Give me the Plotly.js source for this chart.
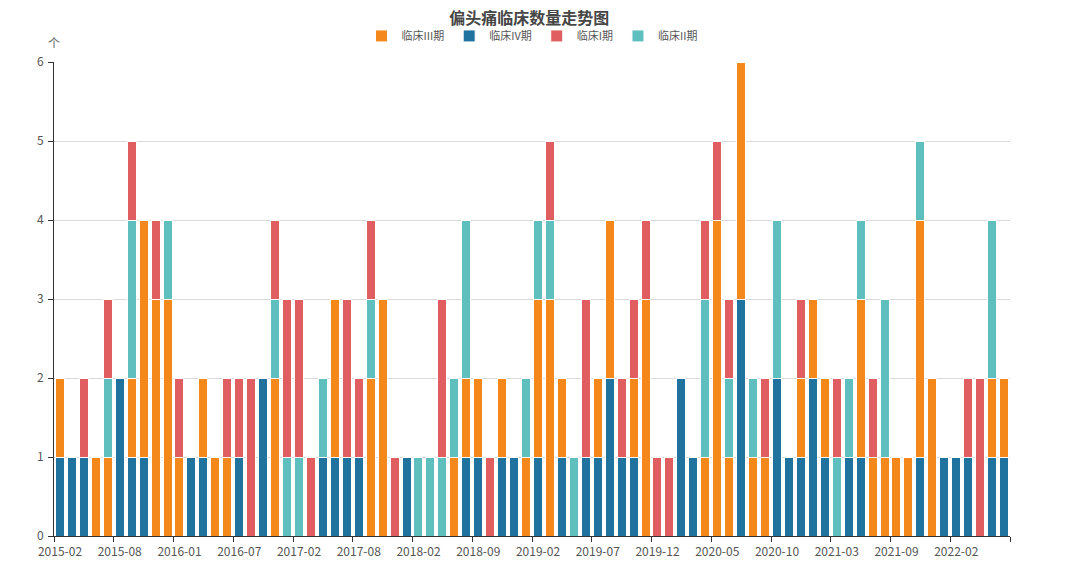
<!DOCTYPE html>
<html>
<head>
<meta charset="utf-8">
<script src="https://cdn.plot.ly/plotly-3.0.1.min.js"></script>
<style>html,body{margin:0;padding:0;background:#fff;}#chart{width:1080px;height:581px;}</style>
</head>
<body>
<div id="chart"></div>
<script>
const months = [
  "2015-02","2015-03","2015-04","2015-05","2015-07",
  "2015-08","2015-09","2015-10","2015-11","2015-12",
  "2016-01","2016-02","2016-03","2016-04","2016-06",
  "2016-07","2016-08","2016-10","2016-11","2016-12",
  "2017-02","2017-03","2017-04","2017-05","2017-07",
  "2017-08","2017-09","2017-10","2017-11","2018-01",
  "2018-02","2018-03","2018-05","2018-06","2018-07",
  "2018-09","2018-10","2018-11","2018-12","2019-01",
  "2019-02","2019-03","2019-04","2019-05","2019-06",
  "2019-07","2019-08","2019-09","2019-10","2019-11",
  "2019-12","2020-01","2020-02","2020-03","2020-04",
  "2020-05","2020-06","2020-07","2020-08","2020-09",
  "2020-10","2020-11","2020-12","2021-01","2021-02",
  "2021-03","2021-04","2021-05","2021-06","2021-08",
  "2021-09","2021-10","2021-11","2021-12","2022-01",
  "2022-02","2022-03","2022-04","2022-05","2022-06"
];
// 临床IV期 (bottom of stack)
const phase4 = [1,1,1,0,0, 2,1,1,0,0, 0,1,1,0,0, 1,0,2,0,0,
                0,0,1,1,1, 1,0,0,0,1, 0,0,0,0,1, 1,0,1,1,0,
                1,0,1,0,1, 1,2,1,1,0, 0,0,2,1,0, 0,0,3,0,0,
                2,1,1,2,1, 0,1,1,0,0, 0,0,1,0,1, 1,1,0,1,1];
// 临床III期
const phase3 = [1,0,0,1,1, 0,1,3,3,3, 1,0,1,1,1, 0,0,0,2,0,
                0,0,0,2,0, 0,2,3,0,0, 0,0,0,1,1, 1,0,1,0,1,
                2,3,1,0,0, 1,2,0,1,3, 0,0,0,0,1, 4,1,3,1,1,
                0,0,1,1,1, 0,0,2,1,1, 1,1,3,2,0, 0,0,0,1,1];
// 临床II期
const phase2 = [0,0,0,0,1, 0,2,0,0,1, 0,0,0,0,0, 0,0,0,1,1,
                1,0,1,0,0, 0,1,0,0,0, 1,1,1,1,2, 0,0,0,0,1,
                1,1,0,1,0, 0,0,0,0,0, 0,0,0,0,2, 0,1,0,1,0,
                2,0,0,0,0, 1,1,1,0,2, 0,0,1,0,0, 0,0,0,2,0];
// 临床I期 (top of stack)
const phase1 = [0,0,1,0,1, 0,1,0,1,0, 1,0,0,0,1, 1,2,0,1,2,
                2,1,0,0,2, 1,1,0,1,0, 0,0,2,0,0, 0,1,0,0,0,
                0,1,0,0,2, 0,0,1,1,1, 1,1,0,0,1, 1,1,0,0,1,
                0,0,1,0,0, 1,0,0,1,0, 0,0,0,0,0, 0,1,2,0,0];

const seriesNames = ["临床IV期","临床III期","临床II期","临床I期"];
const seriesColors = ["#21739f","#f5881a","#5fbfbf","#e05e60"];
const legendRanks = [2,1,4,3];
const seriesData = [phase4, phase3, phase2, phase1];

const traces = seriesData.map((vals, i) => ({
  type: "bar",
  name: seriesNames[i],
  x: months,
  y: vals,
  legendrank: legendRanks[i],
  marker: {color: seriesColors[i], line: {color: "#ffffff", width: 1}},
  hovertemplate: "%{x}<br>" + seriesNames[i] + ": %{y}<extra></extra>"
}));

const layout = {
  width: 1080, height: 581,
  margin: {l: 54, r: 70, t: 62, b: 45},
  paper_bgcolor: "#ffffff", plot_bgcolor: "#ffffff",
  barmode: "stack",
  bargap: 0.25,
  font: {family: "'Noto Sans CJK SC', 'Noto Sans', sans-serif", size: 12, color: "#666"},
  title: {
    text: "<b>偏头痛临床数量走势图</b>",
    x: 0.49, xanchor: "center", y: 0.968, yanchor: "middle",
    font: {size: 16, color: "#464646", family: "'Noto Sans CJK SC', sans-serif"}
  },
  legend: {
    orientation: "h", x: 0.5, xanchor: "center", y: 1.055, yanchor: "middle",
    font: {size: 11, color: "#555"}, traceorder: "normal", itemwidth: 30
  },
  xaxis: {
    type: "category",
    tickmode: "linear", tick0: 0, dtick: 5,
    tickson: "boundaries",
    tickangle: 0,
    ticklabelstandoff: 5,
    ticks: "outside", ticklen: 5, tickcolor: "#333",
    showline: true, linecolor: "#333", linewidth: 1,
    showgrid: false,
    tickfont: {size: 12, color: "#555"},
    fixedrange: true
  },
  yaxis: {
    range: [0, 6], tickvals: [0,1,2,3,4,5,6],
    ticks: "outside", ticklen: 5, tickcolor: "#333",
    ticklabelstandoff: 2,
    showline: true, linecolor: "#333", linewidth: 1,
    showgrid: true, gridcolor: "#d9d9d9", gridwidth: 1,
    zeroline: false,
    tickfont: {size: 12, color: "#555"},
    fixedrange: true
  },
  annotations: [{
    text: "个", xref: "paper", yref: "paper", x: 0, y: 1.042,
    xanchor: "center", yanchor: "middle", showarrow: false,
    font: {size: 12, color: "#666"}
  }],
  showlegend: true
};

Plotly.newPlot("chart", traces, layout, {displayModeBar: false, responsive: false});
</script>
</body>
</html>
